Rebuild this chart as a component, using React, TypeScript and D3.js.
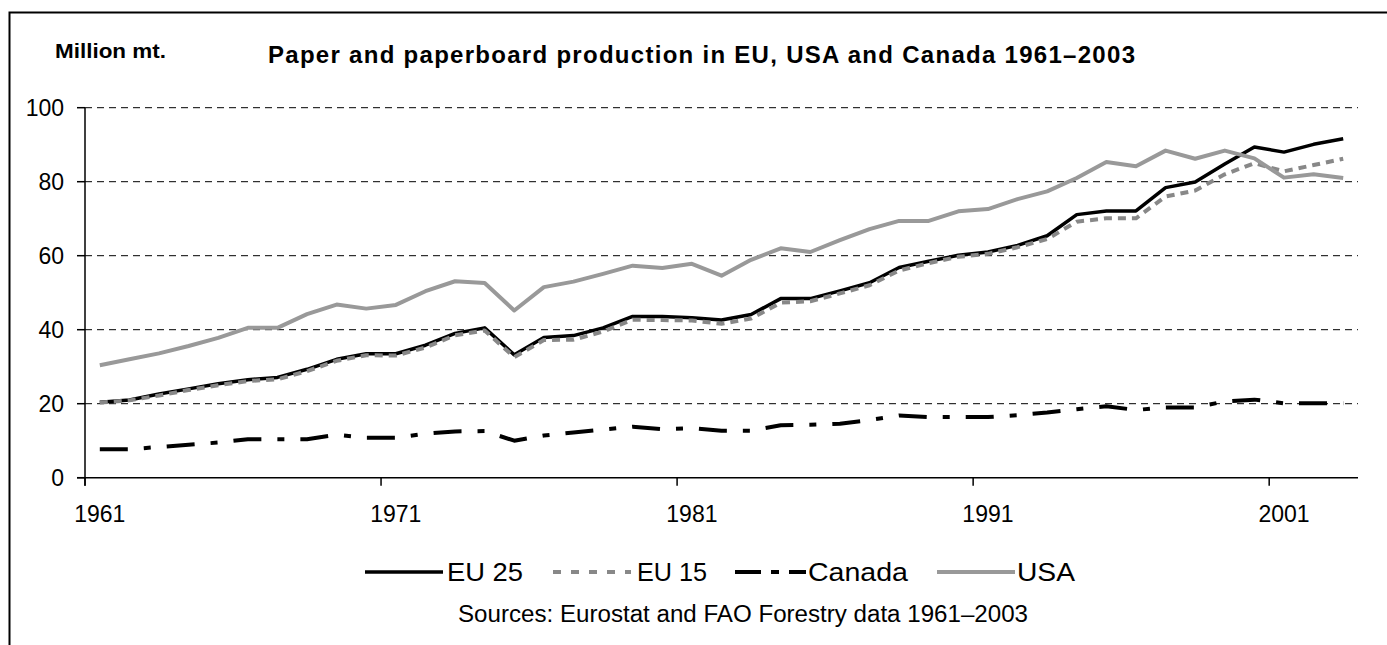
import React from "react";
import * as d3 from "d3";

const years = [
  1961, 1962, 1963, 1964, 1965, 1966, 1967, 1968, 1969, 1970,
  1971, 1972, 1973, 1974, 1975, 1976, 1977, 1978, 1979, 1980,
  1981, 1982, 1983, 1984, 1985, 1986, 1987, 1988, 1989, 1990,
  1991, 1992, 1993, 1994, 1995, 1996, 1997, 1998, 1999, 2000,
  2001, 2002, 2003,
];

const eu25 = [
  20.4, 21.0, 22.6, 24.0, 25.4, 26.5, 27.1, 29.3, 32.0, 33.5,
  33.5, 35.8, 39.0, 40.5, 33.2, 37.9, 38.4, 40.5, 43.6, 43.6,
  43.2, 42.6, 44.1, 48.4, 48.4, 50.5, 52.7, 56.8, 58.5, 60.1,
  61.0, 62.8, 65.4, 71.1, 72.1, 72.1, 78.4, 79.9, 84.8, 89.4,
  88.0, 90.1, 91.6,
];

const eu15 = [
  20.3, 20.9, 22.2, 23.7, 25.0, 26.1, 26.6, 28.8, 31.6, 33.1,
  33.0, 35.2, 38.5, 39.8, 32.6, 37.2, 37.3, 39.5, 42.7, 42.6,
  42.5, 41.6, 43.0, 47.3, 47.7, 49.8, 52.0, 56.0, 58.0, 59.7,
  60.5, 62.3, 64.5, 69.2, 70.1, 70.1, 76.0, 77.6, 82.0, 85.0,
  82.8, 84.5, 86.2,
];

const canada = [
  7.7, 7.7, 8.3, 8.9, 9.5, 10.4, 10.4, 10.4, 11.6, 10.8,
  10.8, 11.9, 12.5, 12.6, 10.0, 11.4, 12.2, 13.0, 13.8, 13.1,
  13.4, 12.7, 12.7, 14.2, 14.3, 14.6, 15.6, 16.8, 16.4, 16.4,
  16.4, 16.9, 17.6, 18.5, 19.3, 18.3, 19.0, 19.0, 20.6, 21.1,
  20.1, 20.1, 20.1,
];

const usa = [
  30.4, 32.0, 33.6, 35.6, 37.8, 40.5, 40.5, 44.2, 46.8, 45.7,
  46.7, 50.4, 53.1, 52.6, 45.2, 51.5, 53.0, 55.1, 57.3, 56.7,
  57.8, 54.6, 58.9, 62.0, 61.0, 64.2, 67.2, 69.4, 69.4, 72.0,
  72.6, 75.3, 77.4, 81.0, 85.3, 84.2, 88.4, 86.2, 88.4, 86.3,
  81.1, 82.0, 81.0,
];

const yTicks = [0, 20, 40, 60, 80, 100];
const xLabelYears = [1961, 1971, 1981, 1991, 2001];

const titleText = "Paper and paperboard production in EU, USA and Canada 1961\u20132003";
const unitText = "Million mt.";
const sourceText = "Sources: Eurostat and FAO Forestry data 1961\u20132003";

const series = [
  { name: "EU 25", values: eu25, color: "#000000", width: 3.5, dash: null as string | null },
  { name: "EU 15", values: eu15, color: "#888888", width: 4, dash: "8,6" },
  { name: "Canada", values: canada, color: "#000000", width: 4, dash: "28,16,7,16" },
  { name: "USA", values: usa, color: "#999999", width: 4, dash: null as string | null },
];

const FONT = "Arial, 'Liberation Sans', Helvetica, sans-serif";

export default function App() {
  const W = 1387;
  const H = 645;
  const left = 85;
  const right = 1358;
  const top = 107.7;
  const bottom = 477.7;

  const x = d3.scaleBand<number>().domain(years).range([left, right]).paddingInner(0).paddingOuter(0);
  const bw = x.bandwidth();
  const cx = (yr: number) => (x(yr) as number) + bw / 2;
  const y = d3.scaleLinear().domain([0, 100]).range([bottom, top]);

  const line = (vals: number[]) =>
    d3
      .line<number>()
      .x((_, i) => cx(years[i]))
      .y((v) => y(v))(vals) as string;

  const legendItems = [
    { s: series[0], x0: 365, x1: 443, tx: 447, tw: 76, dash: undefined as string | undefined },
    { s: series[1], x0: 553, x1: 631, tx: 637, tw: 70, dash: "8,10" },
    { s: series[2], x0: 735, x1: 806, tx: 808, tw: 100, dash: "26,10,8,10" },
    { s: series[3], x0: 937, x1: 1015, tx: 1017, tw: 58, dash: undefined as string | undefined },
  ];
  const legendY = 572;

  return (
    <svg
      width={W}
      height={H}
      style={{ position: "absolute", left: 0, top: 0, background: "#fff" }}
      fontFamily={FONT}
    >
      <rect x={0} y={0} width={W} height={H} fill="#fff" />
      <path d={`M9.5,${H + 5} V12.5 H${W + 5}`} fill="none" stroke="#000" strokeWidth={2} />

      <text x={55} y={58} fontSize={21} fontWeight="bold" textLength={111} lengthAdjust="spacingAndGlyphs">
        {unitText}
      </text>
      <text x={268} y={63} fontSize={24} fontWeight="bold" textLength={867} lengthAdjust="spacing">
        {titleText}
      </text>

      {yTicks
        .filter((t) => t > 0)
        .map((t) => (
          <line
            key={"g" + t}
            x1={left}
            x2={right}
            y1={y(t)}
            y2={y(t)}
            stroke="#000"
            strokeWidth={1}
            strokeDasharray="7,5"
          />
        ))}

      <line x1={left} x2={left} y1={top} y2={bottom + 8} stroke="#000" strokeWidth={1.5} />
      {yTicks.map((t) => (
        <g key={"y" + t}>
          <line x1={left - 8} x2={left} y1={y(t)} y2={y(t)} stroke="#000" strokeWidth={1.5} />
          <text x={64} y={y(t)} dy="0.36em" fontSize={23} textAnchor="end">
            {t}
          </text>
        </g>
      ))}

      <line x1={left - 8} x2={right} y1={bottom} y2={bottom} stroke="#000" strokeWidth={1.5} />
      {xLabelYears.map((yr) => (
        <g key={"x" + yr}>
          <line
            x1={x(yr) as number}
            x2={x(yr) as number}
            y1={bottom}
            y2={bottom + 8}
            stroke="#000"
            strokeWidth={1.5}
          />
          <text x={cx(yr)} y={522} fontSize={23} textAnchor="middle">
            {yr}
          </text>
        </g>
      ))}

      {series.map((s) => (
        <path
          key={s.name}
          d={line(s.values)}
          fill="none"
          stroke={s.color}
          strokeWidth={s.width}
          strokeDasharray={s.dash ?? undefined}
          strokeLinejoin="round"
        />
      ))}

      {legendItems.map((it) => (
        <g key={"l" + it.s.name}>
          <line
            x1={it.x0}
            x2={it.x1}
            y1={legendY}
            y2={legendY}
            stroke={it.s.color}
            strokeWidth={it.s.width}
            strokeDasharray={it.dash}
          />
          <text x={it.tx} y={legendY + 9} fontSize={25} textLength={it.tw} lengthAdjust="spacingAndGlyphs">
            {it.s.name}
          </text>
        </g>
      ))}

      <text x={458} y={622} fontSize={23} textLength={570} lengthAdjust="spacingAndGlyphs">
        {sourceText}
      </text>
    </svg>
  );
}
